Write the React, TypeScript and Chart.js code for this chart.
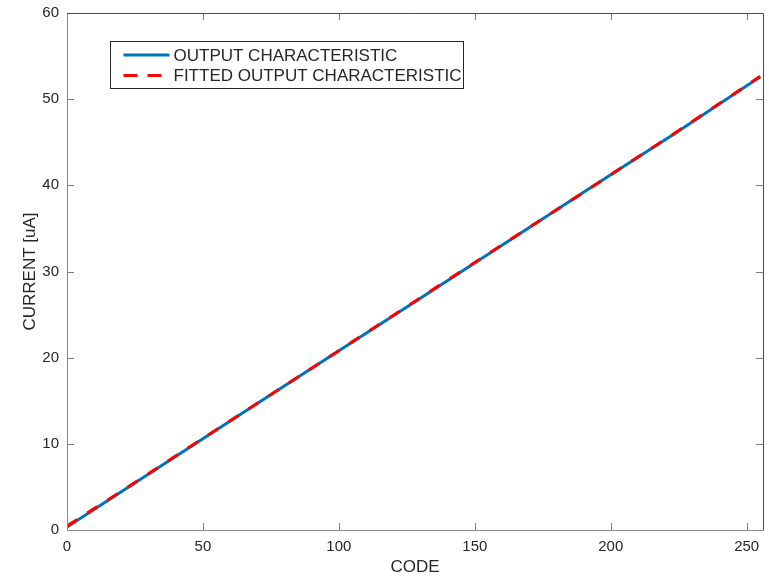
import React, { useEffect, useRef } from "react";
import { Chart, registerables } from "chart.js";

Chart.register(...registerables);

const codes = [0, 32, 64, 96, 128, 160, 192, 224, 255];
const outputCurrent = [0.35, 6.9, 13.45, 20.0, 26.5, 33.05, 39.6, 46.1, 52.6];
const fittedCurrent = [0.45, 6.95, 13.5, 20.0, 26.55, 33.1, 39.6, 46.15, 52.65];
const xTicks = [0, 50, 100, 150, 200, 250];
const yTicks = [0, 10, 20, 30, 40, 50, 60];
const seriesLabels = ["OUTPUT CHARACTERISTIC", "FITTED OUTPUT CHARACTERISTIC"];

const FONT = "'Liberation Sans', Arial, Helvetica, sans-serif";
const TEXT = "#262626";

const boxPlugin = {
  id: "matlabBox",
  afterDraw(chart: any) {
    const { ctx, chartArea: a, scales } = chart;
    const xs = scales.x;
    const ys = scales.y;
    ctx.save();
    ctx.strokeStyle = "#7a7a7a";
    ctx.lineWidth = 1;
    const tl = 7;
    xTicks.forEach((v) => {
      const px = Math.round(xs.getPixelForValue(v)) + 0.5;
      ctx.beginPath();
      ctx.moveTo(px, a.bottom);
      ctx.lineTo(px, a.bottom - tl);
      ctx.moveTo(px, a.top);
      ctx.lineTo(px, a.top + tl);
      ctx.stroke();
    });
    yTicks.forEach((v) => {
      const py = Math.round(ys.getPixelForValue(v)) + 0.5;
      ctx.beginPath();
      ctx.moveTo(a.left, py);
      ctx.lineTo(a.left + tl, py);
      ctx.moveTo(a.right, py);
      ctx.lineTo(a.right - tl, py);
      ctx.stroke();
    });
    ctx.strokeStyle = "#8a8a8a";
    ctx.beginPath();
    ctx.moveTo(Math.round(a.left) + 0.5, Math.round(a.top));
    ctx.lineTo(Math.round(a.left) + 0.5, Math.round(a.bottom) + 0.5);
    ctx.lineTo(Math.round(a.right), Math.round(a.bottom) + 0.5);
    ctx.stroke();
    ctx.strokeStyle = "#4a4a4a";
    ctx.beginPath();
    ctx.moveTo(Math.round(a.left), Math.round(a.top) + 0.5);
    ctx.lineTo(Math.round(a.right) + 0.5, Math.round(a.top) + 0.5);
    ctx.lineTo(Math.round(a.right) + 0.5, Math.round(a.bottom) + 0.5);
    ctx.stroke();

    // legend
    const lx = Math.round(a.left + 43) + 0.5;
    const ly = Math.round(a.top + 28) + 0.5;
    const lw = 353;
    const lh = 47;
    ctx.fillStyle = "#ffffff";
    ctx.fillRect(lx, ly, lw, lh);
    ctx.strokeStyle = "#262626";
    ctx.lineWidth = 1;
    ctx.strokeRect(lx, ly, lw, lh);
    const ds = chart.data.datasets;
    const rows = [ly + 13.5, ly + 34];
    ds.forEach((d: any, i: number) => {
      const y = rows[i];
      ctx.strokeStyle = d.borderColor;
      ctx.lineWidth = 3;
      ctx.setLineDash(d.borderDash ? [14, 10] : []);
      ctx.beginPath();
      ctx.moveTo(lx + 13, y);
      ctx.lineTo(lx + 59, y);
      ctx.stroke();
      ctx.setLineDash([]);
      ctx.fillStyle = TEXT;
      ctx.font = "17px " + FONT;
      ctx.textBaseline = "middle";
      ctx.textAlign = "left";
      ctx.fillText(d.label, lx + 63, y + 1);
    });
    ctx.restore();
  },
};

export default function App() {
  const ref = useRef<HTMLCanvasElement | null>(null);
  useEffect(() => {
    document.body.style.margin = "0";
    const canvas = ref.current!;
    const chart = new Chart(canvas, {
      type: "line",
      data: {
        datasets: [
          {
            label: seriesLabels[0],
            data: codes.map((c, i) => ({ x: c, y: outputCurrent[i] })),
            borderColor: "#0072BD",
            borderWidth: 3,
            pointRadius: 0,
            fill: false,
            order: 1,
          },
          {
            label: seriesLabels[1],
            data: codes.map((c, i) => ({ x: c, y: fittedCurrent[i] })),
            borderColor: "#FF0000",
            borderWidth: 3,
            borderDash: [12, 12],
            pointRadius: 0,
            fill: false,
            order: 0,
          },
        ],
      },
      options: {
        animation: false,
        responsive: false,
        layout: { padding: { top: 13, right: 6, left: 0, bottom: 0 } },
        plugins: { legend: { display: false }, tooltip: { enabled: false } },
        scales: {
          x: {
            type: "linear",
            min: 0,
            max: 256,
            afterBuildTicks: (s: any) => {
              s.ticks = xTicks.map((v) => ({ value: v }));
            },
            afterFit: (s: any) => {
              s.height = 48;
              s.paddingLeft = 0;
              s.paddingRight = 0;
            },
            grid: { display: false, drawTicks: false },
            border: { display: false },
            ticks: {
              color: TEXT,
              font: { family: FONT, size: 15 },
              padding: 8,
              maxRotation: 0,
            },
            title: {
              display: true,
              text: "CODE",
              color: TEXT,
              font: { family: FONT, size: 17 },
              padding: { top: 0, bottom: 0 },
            },
          },
          y: {
            type: "linear",
            min: 0,
            max: 60,
            afterBuildTicks: (s: any) => {
              s.ticks = yTicks.map((v) => ({ value: v }));
            },
            afterFit: (s: any) => {
              s.width = 67;
              s.paddingTop = 0;
              s.paddingBottom = 0;
            },
            grid: { display: false, drawTicks: false },
            border: { display: false },
            ticks: {
              color: TEXT,
              font: { family: FONT, size: 15 },
              padding: 8,
            },
            title: {
              display: true,
              text: "CURRENT [uA]",
              color: TEXT,
              font: { family: FONT, size: 17 },
              padding: { top: 20, bottom: 0 },
            },
          },
        },
      },
      plugins: [boxPlugin],
    });
    return () => chart.destroy();
  }, []);
  return (
    <div style={{ position: "absolute", left: 0, top: 0, width: 769, height: 578 }}>
      <canvas ref={ref} width={769} height={578} />
    </div>
  );
}
